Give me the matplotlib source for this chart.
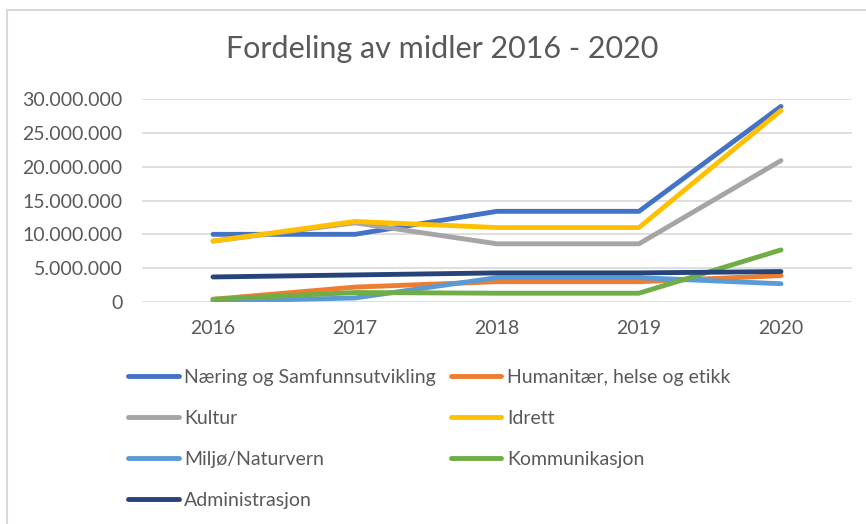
import matplotlib.pyplot as plt
from matplotlib.lines import Line2D
from matplotlib.ticker import FuncFormatter

years = ['2016', '2017', '2018', '2019', '2020']

# values in millions NOK
naering = [10.0, 10.0, 13.4, 13.4, 28.9]
humanitaer = [0.4, 2.2, 3.0, 3.0, 3.9]
kultur = [9.0, 11.7, 8.6, 8.6, 20.9]
idrett = [9.0, 11.9, 11.0, 11.0, 28.3]
miljo = [0.1, 0.6, 3.6, 3.6, 2.7]
kommunikasjon = [0.4, 1.4, 1.3, 1.3, 7.7]
administrasjon = [3.7, 4.0, 4.3, 4.3, 4.5]

series = [
    ('Næring og Samfunnsutvikling', naering, '#4472C4'),
    ('Humanitær, helse og etikk', humanitaer, '#ED7D31'),
    ('Kultur', kultur, '#A5A5A5'),
    ('Idrett', idrett, '#FFC000'),
    ('Miljø/Naturvern', miljo, '#5B9BD5'),
    ('Kommunikasjon', kommunikasjon, '#70AD47'),
    ('Administrasjon', administrasjon, '#264478'),
]

plt.rcParams['font.family'] = ['Lato', 'DejaVu Sans']
text_col = '#595959'

W, H = 866, 524
fig = plt.figure(figsize=(W / 100, H / 100), dpi=100)
ax = fig.add_axes([142 / W, 1 - 302 / H, (852 - 142) / W, (302 - 99) / H])

x = list(range(len(years)))
handles = []
for name, vals, col in series:
    ln, = ax.plot(x, [v * 1e6 for v in vals], color=col, linewidth=3.5,
                  solid_capstyle='round', label=name)
    handles.append(ln)

ax.set_xlim(-0.5, len(years) - 0.5)
ax.set_ylim(0, 30e6)
ax.set_yticks([i * 5e6 for i in range(7)])
ax.yaxis.set_major_formatter(FuncFormatter(lambda v, p: f'{int(v):,}'.replace(',', '.')))
ax.set_xticks(x)
ax.set_xticklabels(years)
ax.grid(axis='y', color='#D9D9D9', linewidth=1.2)
ax.set_axisbelow(True)
for s in ax.spines.values():
    s.set_visible(False)
ax.tick_params(length=0, labelsize=14, colors=text_col)
ax.tick_params(axis='y', pad=14)
ax.tick_params(axis='x', pad=13)

fig.text(442 / W, 1 - 49 / H, 'Fordeling av midler 2016 - 2020', ha='center',
         va='center', fontsize=22, color=text_col)

# legend fills row by row, like Excel
order = [0, 2, 4, 6, 1, 3, 5]
leg = fig.legend([handles[i] for i in order], [series[i][0] for i in order],
                 loc='upper left', bbox_to_anchor=(128 / W, 1 - 369 / H), ncol=2,
                 frameon=False, fontsize=14, handlelength=2.6, handletextpad=0.3,
                 labelspacing=1.23, columnspacing=0.75, borderaxespad=0, borderpad=0)
for t in leg.get_texts():
    t.set_color(text_col)

# chart border (only top and left are inside the screenshot)
fig.add_artist(Line2D([7 / W, 7 / W], [0, 1 - 10 / H], color='#D9D9D9', linewidth=1.5,
                      transform=fig.transFigure))
fig.add_artist(Line2D([7 / W, 1], [1 - 10 / H, 1 - 10 / H], color='#D9D9D9', linewidth=1.5,
                      transform=fig.transFigure))

fig.savefig('out.png', dpi=100)
